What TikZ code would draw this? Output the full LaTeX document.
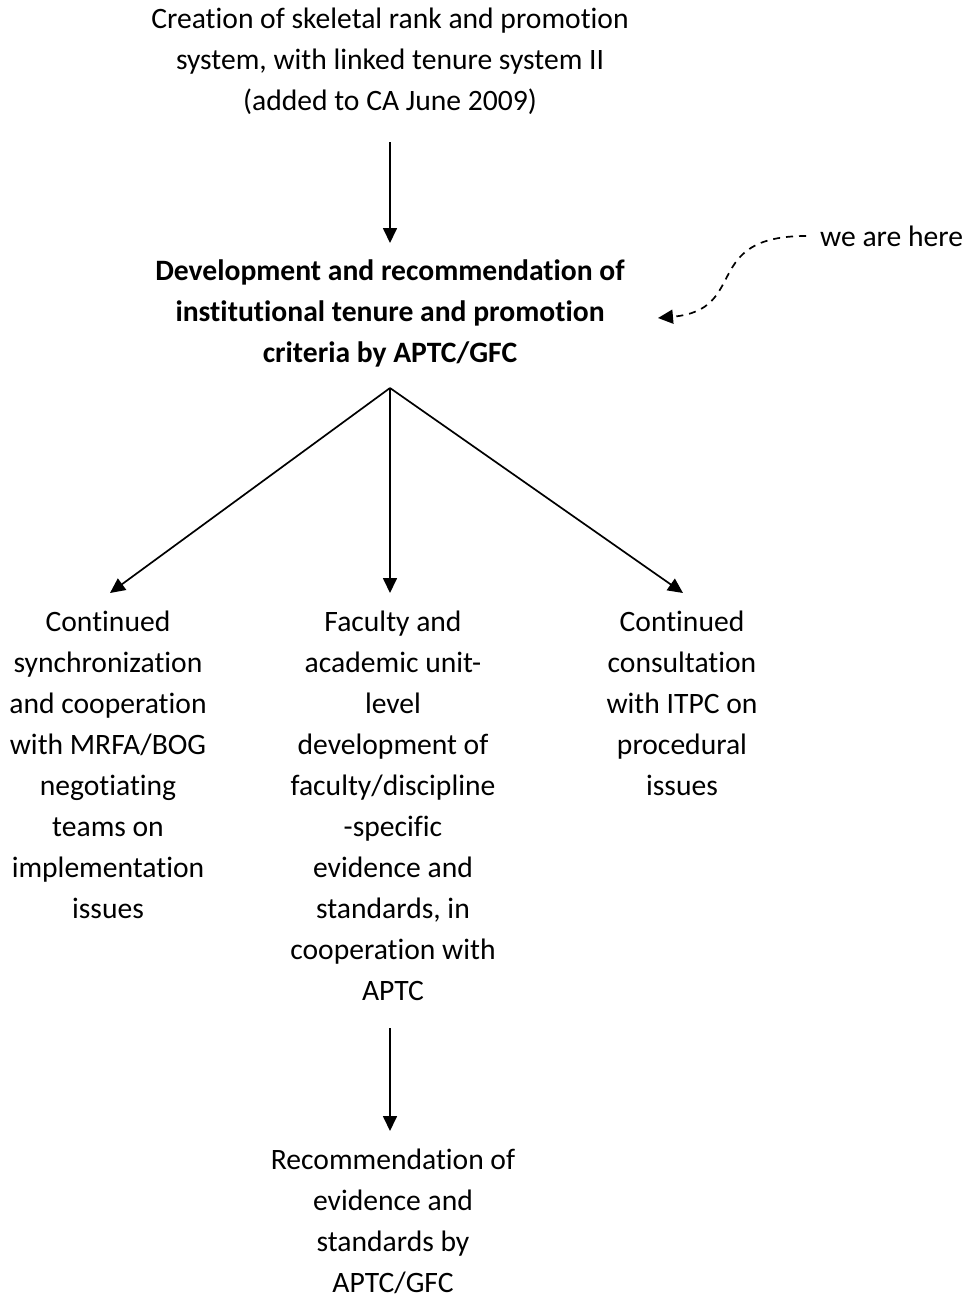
\documentclass[tikz,border=0pt]{standalone}
\usepackage{fontspec}
\setmainfont{Carlito}[Ligatures=NoCommon]
\usetikzlibrary{arrows.meta}
\begin{document}
\begin{tikzpicture}[x=1pt,y=-1pt,
  txt/.style={align=center,inner sep=0pt,font=\fontsize{29.6}{41}\selectfont},
  arr/.style={-{Triangle[length=15pt,width=14pt]},line width=1.7pt},
  darr/.style={-{Triangle[length=15pt,width=14pt]},line width=1.7pt,dash pattern=on 7pt off 6pt}]
\useasboundingbox (0,0) rectangle (967,1299);
\node[txt] (top) at (390,61) {Creation of skeletal rank and promotion\\system, with linked tenure system II\\(added to CA June 2009)};
\node[txt,font=\fontsize{29.6}{41}\selectfont\bfseries] (dev) at (390,313) {Development and recommendation of\\institutional tenure and promotion\\criteria by APTC/GFC};
\node[txt] (left) at (108,765) {Continued\\synchronization\\and cooperation\\with MRFA/BOG\\negotiating\\teams on\\implementation\\issues};
\node[txt] (mid) at (393,806) {Faculty and\\academic unit-\\level\\development of\\faculty/discipline\\-specific\\evidence and\\standards, in\\cooperation with\\APTC};
\node[txt] (right) at (682,703) {Continued\\consultation\\with ITPC on\\procedural\\issues};
\node[txt] (bot) at (393,1221) {Recommendation of\\evidence and\\standards by\\APTC/GFC};
\node[txt,anchor=west] (here) at (820,236) {we are here};
\coordinate (a1) at (390,142);
\coordinate (a2) at (390,243);
\coordinate (br) at (390,388);
\coordinate (lt) at (110,593);
\coordinate (mt) at (390,593);
\coordinate (rt) at (683,593);
\coordinate (b1) at (390,1028);
\coordinate (b2) at (390,1131);
\coordinate (hs) at (806,236);
\coordinate (he) at (658,318);
\draw[arr] (a1) -- (a2);
\draw[arr] (br) -- (lt);
\draw[arr] (br) -- (mt);
\draw[arr] (br) -- (rt);
\draw[arr] (b1) -- (b2);
\draw[darr] (hs) .. controls (700,236) and (750,310) .. (he);
\end{tikzpicture}
\end{document}
